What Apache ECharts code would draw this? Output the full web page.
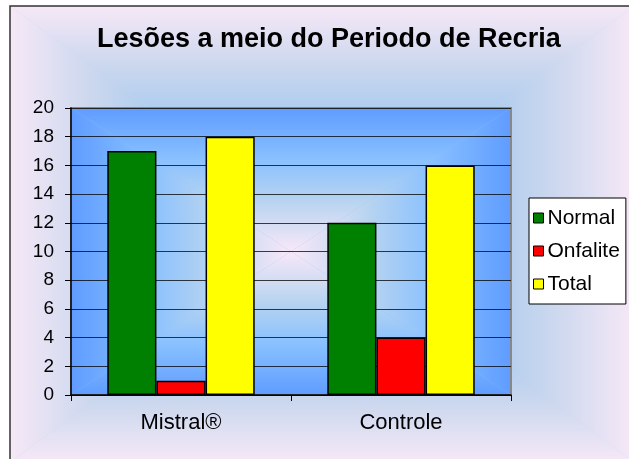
<!DOCTYPE html>
<html>
<head>
<meta charset="utf-8">
<title>Lesões a meio do Periodo de Recria</title>
<script src="https://cdn.jsdelivr.net/npm/echarts@6/dist/echarts.min.js"></script>
<style>
    html, body { margin: 0; padding: 0; background: #fff; }
    #chart { width: 629px; height: 459px; }
</style>
</head>
<body>
<div id="chart"></div>
<script>
var categories = ['Mistral®', 'Controle'];
var seriesNames = ['Normal', 'Onfalite', 'Total'];
var normalValues = [17, 12];
var onfaliteValues = [1, 4];
var totalValues = [18, 16];
var yTicks = { min: 0, max: 20, step: 2 };

var FONT = 'Arial, "Liberation Sans", sans-serif';
var GRID = { left: 71, top: 108, width: 440, height: 287 };

/**
 * gradiente retangular "a partir do centro" (4 triangulos)
 */
function rectGradient(x, y, w, h, stops, z) {
    var cx = x + w / 2, cy = y + h / 2;
    function grad(x1, y1, x2, y2) {
        return { type: 'linear', x: x1, y: y1, x2: x2, y2: y2, colorStops: stops };
    }
    var base = {
        type: 'rect', z: z, silent: true,
        shape: { x: x, y: y, width: w, height: h },
        style: { fill: stops[Math.floor(stops.length / 2)].color }
    };
    return [
        base,
        { type: 'polygon', z: z, silent: true,
          shape: { points: [[cx, cy], [x, y], [x + w, y]] },
          style: { fill: grad(0, 1, 0, 0) } },
        { type: 'polygon', z: z, silent: true,
          shape: { points: [[cx, cy], [x, y + h], [x + w, y + h]] },
          style: { fill: grad(0, 0, 0, 1) } },
        { type: 'polygon', z: z, silent: true,
          shape: { points: [[cx, cy], [x, y], [x, y + h]] },
          style: { fill: grad(1, 0, 0, 0) } },
        { type: 'polygon', z: z, silent: true,
          shape: { points: [[cx, cy], [x + w, y], [x + w, y + h]] },
          style: { fill: grad(0, 0, 1, 0) } }
    ];
}

var outerStops = [
    { offset: 0, color: '#a9cbf3' },
    { offset: 0.55, color: '#afcdef' },
    { offset: 0.75, color: '#cdd8ee' },
    { offset: 0.9, color: '#e6e2f4' },
    { offset: 1, color: '#f6e8f6' }
];
var plotStops = [
    { offset: 0, color: '#f8e8f8' },
    { offset: 0.35, color: '#b8d4f0' },
    { offset: 0.65, color: '#88c0ff' },
    { offset: 1, color: '#5f9cff' }
];

var graphics = []
    .concat(rectGradient(10, 6, 624, 456, outerStops, -20))
    .concat(rectGradient(GRID.left, GRID.top, GRID.width, GRID.height, plotStops, -10));
graphics.push({
    type: 'rect', z: -5, silent: true,
    shape: { x: 10, y: 6, width: 640, height: 470 },
    style: { fill: null, stroke: '#333', lineWidth: 1.5 }
});

function barSeries(name, values, color) {
    return {
        name: name,
        type: 'bar',
        data: values,
        barGap: 0,
        barCategoryGap: '33%',
        itemStyle: { color: color, borderColor: '#000', borderWidth: 1.5 }
    };
}

var chart = echarts.init(document.getElementById('chart'));
chart.setOption({
    animation: false,
    backgroundColor: '#fff',
    textStyle: { fontFamily: FONT },
    graphic: graphics,
    title: {
        text: 'Lesões a meio do Periodo de Recria',
        left: 97,
        top: 26,
        padding: 0,
        textStyle: { fontFamily: FONT, fontSize: 27, fontWeight: 'bold', color: '#000' }
    },
    legend: {
        orient: 'vertical',
        left: 529,
        top: 198,
        padding: [9, 6, 9, 4],
        itemGap: 11,
        itemWidth: 10,
        itemHeight: 10,
        itemStyle: { borderColor: '#000', borderWidth: 1 },
        backgroundColor: '#fff',
        borderColor: '#000',
        borderWidth: 1,
        borderRadius: 0,
        icon: 'rect',
        textStyle: { fontFamily: FONT, fontSize: 21, color: '#000', lineHeight: 22, padding: [0, 0, 0, -1] },
        data: seriesNames
    },
    grid: {
        left: GRID.left,
        top: GRID.top,
        width: GRID.width,
        height: GRID.height,
        show: true,
        backgroundColor: 'transparent',
        borderColor: '#888',
        borderWidth: 2
    },
    xAxis: {
        type: 'category',
        data: categories,
        axisLine: { lineStyle: { color: '#000', width: 1.5 } },
        axisTick: { show: true, length: 6, lineStyle: { color: '#000' } },
        axisLabel: { color: '#000', fontSize: 22, margin: 17, fontFamily: FONT }
    },
    yAxis: {
        type: 'value',
        min: yTicks.min,
        max: yTicks.max,
        interval: yTicks.step,
        axisLine: { show: true, lineStyle: { color: '#000', width: 1.5 } },
        axisTick: { show: true, length: 6, lineStyle: { color: '#000' } },
        axisLabel: { color: '#000', fontSize: 19, margin: 17, fontFamily: FONT },
        splitLine: { show: true, lineStyle: { color: 'rgba(0,0,0,0.75)', width: 1 } }
    },
    series: [
        barSeries(seriesNames[0], normalValues, '#008000'),
        barSeries(seriesNames[1], onfaliteValues, '#ff0000'),
        barSeries(seriesNames[2], totalValues, '#ffff00')
    ]
});
</script>
</body>
</html>
